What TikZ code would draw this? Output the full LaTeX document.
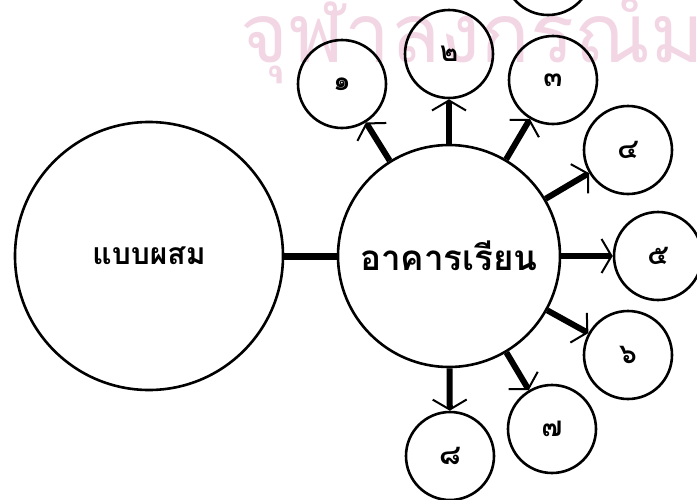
\documentclass[tikz,border=0pt]{standalone}
\usepackage{fontspec}
\newfontfamily\thaifont[Script=Thai]{Loma}
\usetikzlibrary{arrows.meta}
\definecolor{wzrosa}{RGB}{242,214,228}

\tikzset{
    grosskreis/.style={circle, draw, line width=2.6pt, inner sep=0pt, minimum size=268pt, font=\thaifont\bfseries\fontsize{30}{30}\selectfont},
    mittelkreis/.style={circle, draw, line width=2.6pt, inner sep=0pt, minimum size=222pt, font=\thaifont\bfseries\fontsize{35}{35}\selectfont},
    kleinkreis/.style={circle, draw, line width=2.6pt, inner sep=0pt, minimum size=88pt, font=\thaifont\bfseries\fontsize{28}{28}\selectfont},
    wasserzeichen/.style={text=wzrosa, inner sep=0pt, font=\thaifont\fontsize{82}{82}\selectfont},
    verbindung/.style={line width=7pt},
    pfeil/.style={line width=6pt, -{Straight Barb[length=10pt, width=34pt, line width=2pt]}}
}

\begin{document}
\begin{tikzpicture}[x=1pt, y=-1pt]
    \useasboundingbox (0,0) rectangle (697,499);
    \clip (0,0) rectangle (697,499);
    \node[wasserzeichen, anchor=base west] (WZ) at (240,62) {จุฬาลงกรณ์มหาวิทยาลัย};
    \path node[grosskreis] (S) at (149,256) {แบบผสม}
        node[mittelkreis] (A) at (449,256) {อาคารเรียน}
        node[kleinkreis] (A1) at (342,84) {๑}
        node[kleinkreis] (A2) at (449,54) {๒}
        node[kleinkreis] (A3) at (553,80) {๓}
        node[kleinkreis] (A4) at (628,150) {๔}
        node[kleinkreis] (A5) at (658,256) {๕}
        node[kleinkreis] (A6) at (628,355) {๖}
        node[kleinkreis] (A7) at (552,429) {๗}
        node[kleinkreis] (A8) at (450,456) {๘}
        node[kleinkreis] (X) at (548,-29) {};
    \draw[verbindung] (S) -- (A);
    \draw[pfeil] (A) -- (A1);
    \draw[pfeil] (A) -- (A2);
    \draw[pfeil] (A) -- (A3);
    \draw[pfeil] (A) -- (A4);
    \draw[pfeil] (A) -- (A5);
    \draw[pfeil] (A) -- (A6);
    \draw[pfeil] (A) -- (A7);
    \draw[pfeil] (A) -- (A8);
\end{tikzpicture}
\end{document}
